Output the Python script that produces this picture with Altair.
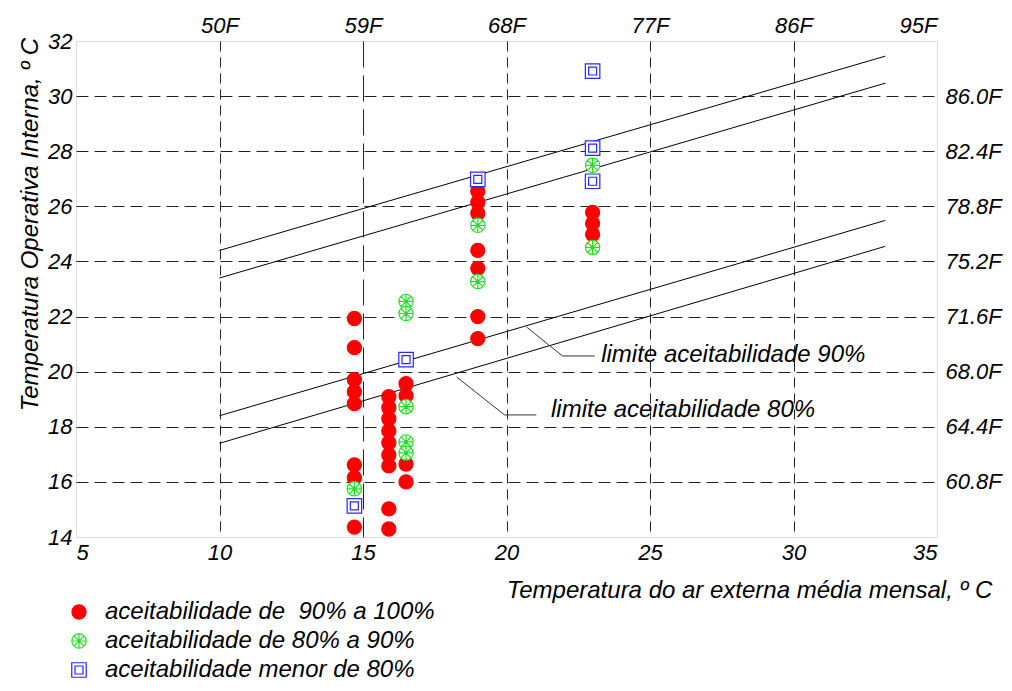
import altair as alt
import pandas as pd

FONT = "Liberation Sans"

# ---- data ----
red_x = [14.7] * 8 + [15.9] * 9 + [16.5] * 4 + [19.0] * 7 + [23.0] * 3
red_y = [21.93, 20.87, 19.71, 19.27, 18.84, 16.62, 16.15, 14.36,
         19.09, 18.69, 18.29, 17.85, 17.42, 16.98, 16.58, 15.02, 14.29,
         19.56, 19.13, 16.65, 16.00,
         26.55, 26.15, 25.75, 24.40, 23.75, 22.00, 21.20,
         25.78, 25.38, 24.98]
green_x = [14.7] + [16.5] * 5 + [19.0] * 2 + [23.0] * 2
green_y = [15.75, 22.55, 22.11, 18.73, 17.45, 17.05, 25.31, 23.27, 27.49, 24.51]
blue_x = [14.7, 16.5, 19.0, 23.0, 23.0, 23.0]
blue_y = [15.13, 20.44, 26.98, 30.91, 28.11, 26.91]

categories = ["aceitabilidade de \u00a090% a 100%",
              "aceitabilidade de 80% a 90%",
              "aceitabilidade menor de 80%"]

# comfort limit lines (endpoints)
limit_x = [10.0, 33.2]
upper80_y = [24.40, 31.45]
upper90_y = [23.40, 30.47]
lower90_y = [18.40, 25.49]
lower80_y = [17.40, 24.55]

# annotation leaders and labels
lead90_x = [20.70, 21.95, 23.07]
lead90_y = [21.62, 20.57, 20.57]
lead80_x = [18.26, 19.93, 21.04]
lead80_y = [19.81, 18.43, 18.43]
label_text = ["limite aceitabilidade 90%", "limite aceitabilidade 80%"]
label_x = [23.30, 21.55]
label_y = [20.60, 18.62]

x_ticks = [5, 10, 15, 20, 25, 30, 35]
y_ticks = [14, 16, 18, 20, 22, 24, 26, 28, 30, 32]
top_ticks = [10, 15, 20, 25, 30, 35]
right_ticks = [16, 18, 20, 22, 24, 26, 28, 30]

# ---- tables ----
pts = pd.DataFrame({
    "x": red_x + green_x + blue_x,
    "y": red_y + green_y + blue_y,
    "cat": [categories[0]] * len(red_x) + [categories[1]] * len(green_x)
           + [categories[2]] * len(blue_x),
})
lines = pd.DataFrame({
    "x": limit_x * 4,
    "y": upper80_y + upper90_y + lower90_y + lower80_y,
    "g": ["u80"] * 2 + ["u90"] * 2 + ["l90"] * 2 + ["l80"] * 2,
})
leaders = pd.DataFrame({
    "x": lead90_x + lead80_x,
    "y": lead90_y + lead80_y,
    "g": ["a"] * 3 + ["b"] * 3,
    "o": [0, 1, 2, 0, 1, 2],
})
labels = pd.DataFrame({"x": label_x, "y": label_y, "t": label_text})

xscale = alt.Scale(domain=[5, 35], nice=False, zero=False)
yscale = alt.Scale(domain=[14, 32], nice=False, zero=False)

lab = dict(labelFont=FONT, labelFontSize=22, labelFontStyle="italic",
           labelColor="black", ticks=False, domain=False,
           titleFont=FONT, titleFontSize=24, titleFontStyle="italic",
           titleFontWeight="normal", titleColor="black")

x_enc = alt.X("x:Q", scale=xscale, axis=alt.Axis(
    values=x_ticks, labelPadding=5, title="Temperatura do ar externa média mensal, º C",
    titleX=673, titleY=53, titleBaseline="middle", titleAlign="center",
    grid=True, gridColor="#222222", gridWidth=1,
    gridOpacity={"condition": {"test": "datum.value == 5 || datum.value == 35", "value": 0}, "value": 1},
    gridDash={"condition": {"test": "datum.value == 15", "value": [26, 8]}, "value": [10, 6]},
    **lab))
y_enc = alt.Y("y:Q", scale=yscale, axis=alt.Axis(
    values=y_ticks, labelPadding=4, title="Temperatura Operativa Interna, º C",
    titleX=-46, titleY=183, titleAngle=-90, titleBaseline="middle", titleAlign="center",
    grid=True, gridColor="#222222", gridWidth=1, gridDash=[12, 6],
    gridOpacity={"condition": {"test": "datum.value == 14 || datum.value == 32", "value": 0}, "value": 1},
    **lab))

legend = alt.Legend(orient="none", legendX=-9, legendY=559, title=None,
                    labelFont=FONT, labelFontSize=24, labelFontStyle="italic",
                    labelColor="black", labelOffset=14, rowPadding=5,
                    symbolStrokeWidth=1.2, labelLimit=500)

ASTER = ("M1,0A1,1 0 1,1 -1,0A1,1 0 1,1 1,0Z"
         "M-1,0L1,0M0,-1L0,1M-0.707,-0.707L0.707,0.707M-0.707,0.707L0.707,-0.707")
DSQ = "M-1,-1L1,-1L1,1L-1,1Z M-0.55,-0.55L0.55,-0.55L0.55,0.55L-0.55,0.55Z"

points = alt.Chart(pts).mark_point(opacity=1, strokeWidth=1.2).encode(
    x=x_enc, y=y_enc,
    shape=alt.Shape("cat:N", scale=alt.Scale(domain=categories, range=["circle", ASTER, DSQ]), legend=legend),
    stroke=alt.Stroke("cat:N", scale=alt.Scale(domain=categories, range=["#ff0000", "#22e022", "#2828ff"]), legend=legend),
    fill=alt.Fill("cat:N", scale=alt.Scale(domain=categories, range=["#ff0000", "#ffffff", "#ffffff"]), legend=legend),
    size=alt.Size("cat:N", scale=alt.Scale(domain=categories, range=[200, 210, 160]), legend=legend),
)

limit_lines = alt.Chart(lines).mark_line(color="black", strokeWidth=1).encode(
    x=x_enc, y=y_enc, detail="g:N")

leader_lines = alt.Chart(leaders).mark_line(color="#333333", strokeWidth=1).encode(
    x=x_enc, y=y_enc, detail="g:N", order="o:Q")

label_marks = alt.Chart(labels).mark_text(
    align="left", baseline="middle", font=FONT, fontSize=24, fontStyle="italic", color="black"
).encode(x=x_enc, y=y_enc, text="t:N")

main = alt.layer(limit_lines, leader_lines, label_marks, points)

frame = pd.DataFrame({"x": [5, 35], "y": [14, 32]})
axes2 = alt.Chart(frame).mark_point(opacity=0).encode(
    x=alt.X("x:Q", scale=xscale, axis=alt.Axis(
        orient="top", values=top_ticks, labelExpr="(datum.value*9/5+32) + 'F'",
        labelPadding=4, title=None, grid=False, **lab)),
    y=alt.Y("y:Q", scale=yscale, axis=alt.Axis(
        orient="right", values=right_ticks,
        labelExpr="format(datum.value*9/5+32, '.1f') + 'F'",
        labelPadding=8, title=None, grid=False, **lab)),
)

chart = alt.layer(main, axes2).resolve_scale(x="independent", y="independent").properties(
    width=861, height=496,
    autosize=alt.AutoSizeParams(type="none"),
    padding={"left": 68, "top": 33, "right": 66, "bottom": 145},
).configure_view(stroke="#666666", strokeWidth=1.5).configure(background="white")

chart.save("out.html", embed_options={"renderer": "svg", "actions": False})
